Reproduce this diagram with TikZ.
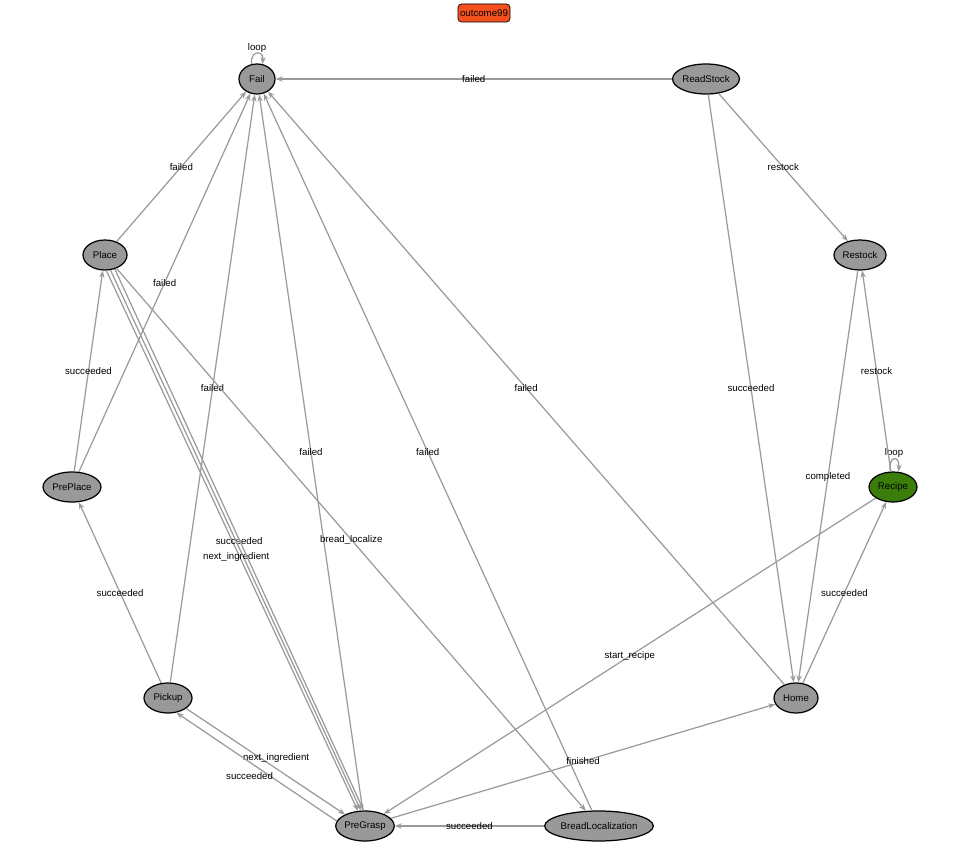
\documentclass[tikz,border=0pt]{standalone}
\usepackage{fontspec}
\setmainfont{Liberation Sans}
\usetikzlibrary{shapes.geometric,arrows.meta}
\definecolor{eg}{HTML}{9A9A9A}
\definecolor{ng}{HTML}{999999}
\begin{document}
\begin{tikzpicture}[x=0.02cm,y=-0.02cm,
  st/.style={ellipse,draw=black,line width=0.7pt,fill=ng,inner sep=0pt,minimum height=30*0.02cm,font=\fontsize{5.5}{6}\selectfont},
  e/.style={draw=eg,line width=0.7pt,-{Stealth[length=4pt,width=3pt]}},
  lb/.style={font=\fontsize{5.5}{6}\selectfont,inner sep=0.5pt,midway}]
\useasboundingbox (0,0) rectangle (963,864);
\node[draw=black,rounded corners=2pt,fill={rgb,255:red,244;green,81;blue,30},minimum width=52*0.02cm,minimum height=18*0.02cm,inner sep=0pt,font=\fontsize{5.5}{6}\selectfont] (o) at (484,13) {outcome99};
\node[st,minimum width=36*0.02cm] (fail) at (257,79) {Fail};
\node[st,minimum width=62*0.02cm] (rs) at (706,79) {ReadStock};
\node[st,minimum width=44*0.02cm] (place) at (105,255) {Place};
\node[st,minimum width=52*0.02cm] (restock) at (860,255) {Restock};
\node[st,minimum width=58*0.02cm] (preplace) at (72,487) {PrePlace};
\node[st,minimum width=48*0.02cm,fill={rgb,255:red,58;green,125;blue,10}] (recipe) at (893,487) {Recipe};
\node[st,minimum width=48*0.02cm] (pickup) at (168,698) {Pickup};
\node[st,minimum width=44*0.02cm] (home) at (796,698) {Home};
\node[st,minimum width=58*0.02cm] (pg) at (365,826) {PreGrasp};
\node[st,minimum width=90*0.02cm] (bl) at (599,826) {BreadLocalization};

\draw[e] (rs) -- (fail) node[lb]{failed};
\draw[e] (fail.110) .. controls (250,50) and (264,50) .. (fail.70) node[lb,pos=0.5,above]{loop};
\draw[e] (recipe.100) .. controls (888,455) and (900,455) .. (recipe.70) node[lb,pos=0.5,above]{loop};
\draw[e] (place) -- (fail) node[lb]{failed};
\draw[e] (rs) -- (restock) node[lb]{restock};
\draw[e] (rs) -- (home) node[lb]{succeeded};
\draw[e] (preplace) -- (fail) node[lb]{failed};
\draw[e] (preplace) -- (place) node[lb]{succeeded};
\draw[e] (pickup) -- (preplace) node[lb]{succeeded};
\draw[e] (pickup) -- (fail) node[lb]{failed};
\draw[e] (pg) -- (fail) node[lb]{failed};
\draw[e] (bl) -- (fail) node[lb]{failed};
\draw[e] (home) -- (fail) node[lb]{failed};
\draw[e] (place.-85) -- (pg.115) node[lb,pos=0.5,xshift=4pt]{succeeded};
\draw[e] (place.-70) -- (pg.105) node[lb,pos=0.53,xshift=-4pt]{next\_ingredient};
\draw[e] (place.-55) -- (pg.95);
\draw[e] (place) -- (bl) node[lb]{bread\_localize};
\draw[e] (pickup.-30) -- (pg.150) node[lb,pos=0.5,xshift=6pt,yshift=2pt]{next\_ingredient};
\draw[e] (pg.170) -- (pickup.-60) node[lb,pos=0.5,xshift=-4pt,yshift=-5pt]{succeeded};
\draw[e] (bl) -- (pg) node[lb]{succeeded};
\draw[e] (pg) -- (home) node[lb]{finished};
\draw[e] (recipe) -- (pg) node[lb]{start\_recipe};
\draw[e] (home) -- (recipe) node[lb]{succeeded};
\draw[e] (restock) -- (home) node[lb]{completed};
\draw[e] (recipe) -- (restock) node[lb]{restock};
\end{tikzpicture}
\end{document}
